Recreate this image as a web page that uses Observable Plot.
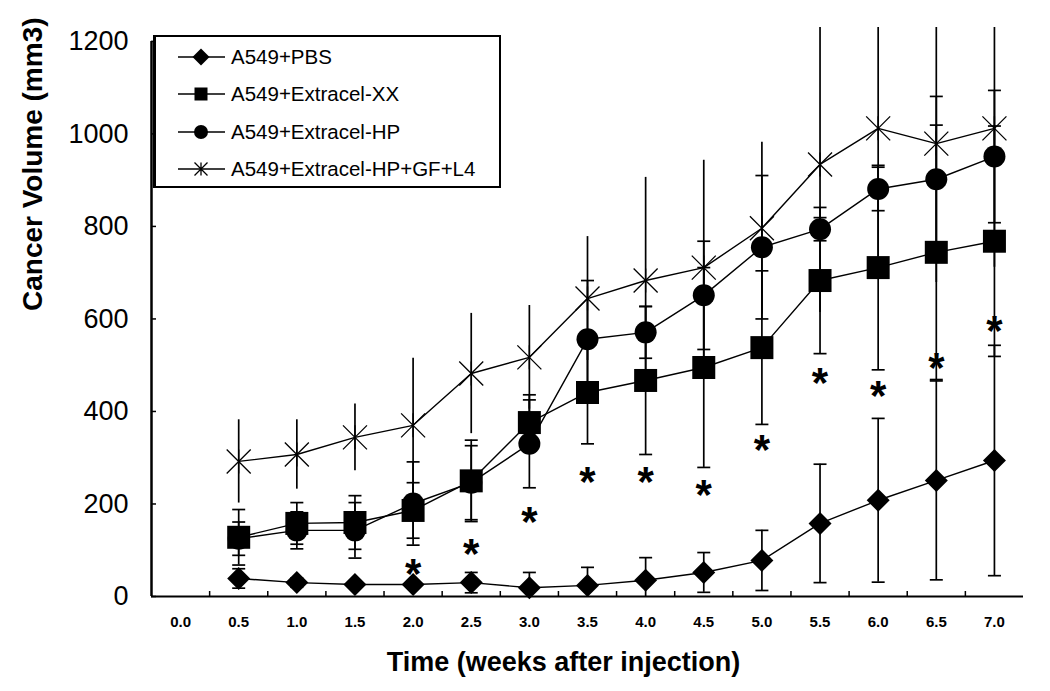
<!DOCTYPE html>
<html>
<head>
<meta charset="utf-8">
<script src="https://cdn.jsdelivr.net/npm/d3@7"></script>
<script src="https://cdn.jsdelivr.net/npm/@observablehq/plot@0.6"></script>
<style>
  html, body { margin: 0; padding: 0; background: #fff; }
  #wrap { position: relative; width: 1050px; height: 691px; font-family: Arial, "Liberation Sans", sans-serif; }
  #legend { position: absolute; left: 153px; top: 35px; width: 348px; height: 153px; border: 2px solid #000; border-left-width: 3px; background: #fff; box-sizing: border-box; }
  .lrow { position: absolute; left: 0; height: 24px; display: flex; align-items: center; }
  .lrow svg { display: block; margin-left: 22px; }
  .lrow span { font-size: 20.5px; color: #000; margin-left: 6px; white-space: nowrap; }
</style>
</head>
<body>
<div id="wrap"></div>
<script>
// ---- data ----
const weekTicks = [0, 0.5, 1, 1.5, 2, 2.5, 3, 3.5, 4, 4.5, 5, 5.5, 6, 6.5, 7];
const weeks = [0.5, 1, 1.5, 2, 2.5, 3, 3.5, 4, 4.5, 5, 5.5, 6, 6.5, 7];
const seriesNames = ["A549+PBS", "A549+Extracel-XX", "A549+Extracel-HP", "A549+Extracel-HP+GF+L4"];

const pbsValues = [39, 30, 26, 26, 30, 19, 24, 35, 52, 78, 158, 208, 251, 294];
const pbsErrors = [21, 10, 8, 8, 22, 33, 39, 49, 43, 65, 128, 177, 215, 249];

const xxValues = [128, 158, 160, 186, 250, 376, 441, 467, 495, 538, 683, 711, 744, 768];
const xxErrors = [60, 45, 58, 60, 88, 60, 111, 160, 216, 166, 158, 221, 275, 249];

const hpValues = [125, 143, 143, 201, 246, 330, 556, 571, 651, 755, 794, 881, 902, 951];
const hpErrors = [36, 40, 60, 90, 80, 95, 127, 56, 117, 155, 25, 47, 179, 143];

const gfValues = [292, 307, 344, 370, 482, 517, 644, 683, 711, 796, 934, 1012, 979, 1012];
const gfErrors = [90, 75, 72, 145, 130, 112, 134, 223, 232, 186, 320, 300, 300, 300];

// significance asterisks (week, position)
const sigWeeks = [2, 2.5, 3, 3.5, 4, 4.5, 5, 5.5, 6, 6.5, 7];
const sigValues = [74, 117, 186, 272, 272, 244, 342, 486, 458, 519, 599];

const yTicks = [0, 200, 400, 600, 800, 1000, 1200];
const xDomain = [-0.25, 7.25];
const yDomain = [0, 1230];

// ---- build tables ----
function rows(name, vals, errs) {
  return weeks.map((w, i) => ({ series: name, week: w, v: vals[i], e: errs[i] }));
}
const pbs = rows(seriesNames[0], pbsValues, pbsErrors);
const xx = rows(seriesNames[1], xxValues, xxErrors);
const hp = rows(seriesNames[2], hpValues, hpErrors);
const gf = rows(seriesNames[3], gfValues, gfErrors);
const all = [...pbs, ...xx, ...hp, ...gf];
const capped = [...pbs, ...xx, ...hp];
const xBoundaries = weekTicks.slice(0, -1).map((w, i) => (w + weekTicks[i + 1]) / 2);

// ---- custom symbols ----
const diamondSym = { draw(c) { const r = 11.5; c.moveTo(0, -r); c.lineTo(r, 0); c.lineTo(0, r); c.lineTo(-r, 0); c.closePath(); } };
const squareSym = { draw(c) { const h = 11.5; c.moveTo(-h, -h); c.lineTo(h, -h); c.lineTo(h, h); c.lineTo(-h, h); c.closePath(); } };
const circleSym = { draw(c) { const r = 11; c.moveTo(r, 0); c.arc(0, 0, r, 0, 2 * Math.PI); c.closePath(); } };
const starSym = { draw(c) { const h = 12; c.moveTo(-h, -h); c.lineTo(h, h); c.moveTo(-h, h); c.lineTo(h, -h); c.moveTo(0, -h); c.lineTo(0, h); } };
const capSym = { draw(c) { const h = 6.5; c.moveTo(-h, 0); c.lineTo(h, 0); } };

const font = "Arial, 'Liberation Sans', sans-serif";

const chart = Plot.plot({
  width: 1050,
  height: 691,
  marginLeft: 151,
  marginRight: 27,
  marginTop: 27,
  marginBottom: 95,
  style: { fontFamily: font, color: "#000", background: "#fff", overflow: "visible" },
  x: { domain: xDomain, axis: null },
  y: { domain: yDomain, axis: null },
  marks: [
    // axis lines
    Plot.ruleY([yDomain[0]], { stroke: "#000", strokeWidth: 2 }),
    Plot.ruleX([xDomain[0]], { y1: yTicks[0], y2: yTicks[yTicks.length - 1], stroke: "#000", strokeWidth: 2.5 }),
    // inward tick marks
    Plot.axisX({ ticks: xBoundaries, tickSize: -5, tickFormat: () => "", label: null, strokeWidth: 1.5 }),
    Plot.axisY({ ticks: yTicks, tickSize: -5, tickFormat: () => "", label: null, strokeWidth: 1.5 }),
    // tick labels
    Plot.axisX({ ticks: weekTicks, tickSize: 0, tickPadding: 20, tickFormat: d => d.toFixed(1), label: null, fontSize: 15, fontWeight: "bold" }),
    Plot.axisY({ ticks: yTicks, tickSize: 0, tickPadding: 23, tickFormat: d => String(d), label: null, fontSize: 27 }),
    // error bars
    Plot.ruleX(all, { x: "week", y1: d => d.v - d.e, y2: d => d.v + d.e, stroke: "#000", strokeWidth: 1.7, clip: true }),
    Plot.dot(capped, { x: "week", y: d => d.v + d.e, symbol: capSym, stroke: "#000", strokeWidth: 1.7, fill: "none", clip: true }),
    Plot.dot(capped, { x: "week", y: d => d.v - d.e, symbol: capSym, stroke: "#000", strokeWidth: 1.7, fill: "none", clip: true }),
    // lines
    Plot.line(all, { x: "week", y: "v", z: "series", stroke: "#000", strokeWidth: 1.4 }),
    // markers
    Plot.dot(pbs, { x: "week", y: "v", symbol: diamondSym, fill: "#000", stroke: "none" }),
    Plot.dot(xx, { x: "week", y: "v", symbol: squareSym, fill: "#000", stroke: "none" }),
    Plot.dot(hp, { x: "week", y: "v", symbol: circleSym, fill: "#000", stroke: "none" }),
    Plot.dot(gf, { x: "week", y: "v", symbol: starSym, fill: "none", stroke: "#000", strokeWidth: 1.3 }),
    // significance asterisks
    Plot.text(sigWeeks, { x: d => d, y: (d, i) => sigValues[i], text: () => "*", fontSize: 42, fontWeight: "bold", lineAnchor: "middle", dy: 12 }),
    // axis titles
    Plot.text(["Time (weeks after injection)"], { frameAnchor: "bottom", text: d => d, dx: -24, dy: 66, lineAnchor: "middle", fontSize: 27, fontWeight: "bold" }),
    Plot.text(["Cancer Volume (mm3)"], { frameAnchor: "left", text: d => d, rotate: -90, dx: -118, dy: -1, lineAnchor: "middle", fontSize: 28, fontWeight: "bold" })
  ]
});

const wrap = document.getElementById("wrap");
wrap.appendChild(chart);

// ---- legend ----
const legendSymbols = [
  '<polygon points="23,1.5 31.5,10 23,18.5 14.5,10" fill="#000"/>',
  '<rect x="16.5" y="3.5" width="13" height="13" fill="#000"/>',
  '<circle cx="23" cy="10" r="7" fill="#000"/>',
  '<path d="M16.5,3.5L29.5,16.5M16.5,16.5L29.5,3.5M23,3.5L23,16.5" stroke="#000" stroke-width="1.3" fill="none"/>'
];
const legendTops = [8, 45, 83, 120];
const legend = document.createElement("div");
legend.id = "legend";
seriesNames.forEach((name, i) => {
  const row = document.createElement("div");
  row.className = "lrow";
  row.style.top = legendTops[i] + "px";
  row.innerHTML = '<svg width="47" height="20" viewBox="0 0 47 20"><line x1="0" y1="10" x2="47" y2="10" stroke="#000" stroke-width="1.4"/>' + legendSymbols[i] + '</svg><span>' + name + '</span>';
  legend.appendChild(row);
});
wrap.appendChild(legend);
</script>
</body>
</html>
